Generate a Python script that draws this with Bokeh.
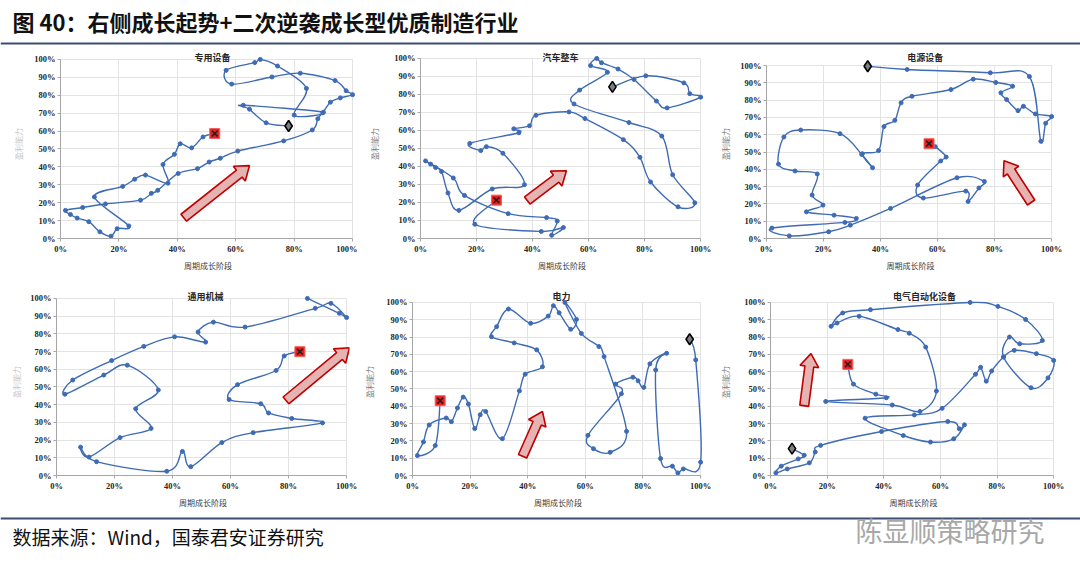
import numpy as np
from bokeh.plotting import figure
from bokeh.models import Range1d, Label, Span, FixedTicker, PrintfTickFormatter, ColumnDataSource
from bokeh.layouts import column, row
from bokeh.embed import file_html
from bokeh.resources import INLINE

TITLE = "图 40：右侧成长起势+二次逆袭成长型优质制造行业"
SOURCE = "数据来源：Wind，国泰君安证券研究"
WATERMARK = "陈显顺策略研究"
X_LABEL = "周期成长阶段"
Y_LABEL = "盈利能力"
X_TICKS = [0, 20, 40, 60, 80, 100]
Y_TICKS = [0, 10, 20, 30, 40, 50, 60, 70, 80, 90, 100]

# ---------------- data (percent) ----------------
names = ["专用设备", "汽车整车", "电源设备", "通用机械", "电力", "电气自动化设备"]

s1_x = [78.1, 70.4, 64.7, 62.6, 90.0, 80.0, 84.2, 74.3, 68.4, 66.5, 56.7, 58.6, 72.4, 82.1, 94.0, 97.8, 100.0,
        95.8, 92.4, 89.8, 88.1, 86.2, 76.4, 60.7, 54.7, 50.9, 46.9, 40.3, 33.3, 31.1, 27.4, 15.4, 7.6, 1.7,
        3.4, 5.7, 9.7, 13.5, 17.3, 19.4, 23.4, 11.6, 21.3, 25.4, 29.1, 36.8, 35.1, 39.0, 41.0, 44.9, 48.8, 52.8]
s1_y = [62.8, 64.6, 72.2, 74.4, 70.5, 68.9, 83.8, 96.3, 100.0, 98.2, 93.9, 86.2, 90.2, 92.3, 88.2, 82.5, 80.3,
        78.5, 76.1, 70.2, 66.9, 60.6, 54.5, 48.8, 44.8, 42.7, 39.0, 36.3, 26.9, 25.2, 21.4, 19.3, 17.3, 15.7,
        13.4, 11.4, 9.4, 3.7, 1.3, 5.5, 7.0, 23.2, 29.1, 33.1, 35.4, 30.9, 41.3, 47.0, 52.9, 50.6, 56.7, 58.6]

s2_x = [68.5, 80.4, 94.0, 96.1, 100.0, 88.0, 84.2, 76.2, 70.5, 64.6, 62.9, 60.7, 66.7, 56.8, 54.8, 74.4, 86.1,
        90.0, 97.9, 91.9, 82.1, 78.3, 72.4, 58.7, 53.0, 41.2, 38.9, 33.3, 35.1, 17.6, 21.5, 23.5, 29.4, 37.1,
        25.6, 13.7, 9.8, 7.5, 5.4, 3.6, 1.8, 11.7, 15.7, 31.3, 45.0, 48.8, 46.8, 51.0, 43.1, 19.4, 27.1]
s2_y = [84.2, 90.3, 86.4, 80.4, 78.5, 72.5, 76.3, 88.3, 94.1, 97.6, 100.0, 96.0, 92.3, 82.4, 74.7, 64.4, 56.9,
        35.4, 19.8, 17.6, 31.4, 45.1, 54.9, 66.6, 70.3, 68.4, 62.6, 60.9, 58.7, 52.8, 48.8, 51.0, 47.3, 29.9,
        27.5, 15.6, 25.3, 37.2, 39.4, 41.3, 43.1, 33.6, 23.9, 13.8, 11.6, 9.7, 1.8, 6.1, 3.9, 7.9, 21.3]

s3_x = [35.5, 49.3, 78.5, 92.2, 96.2, 97.9, 100.0, 94.3, 90.1, 88.2, 84.2, 82.2, 86.3, 80.4, 72.5, 64.7, 51.0,
        47.2, 45.0, 41.2, 39.3, 33.6, 37.2, 33.4, 25.8, 12.0, 6.1, 4.2, 10.0, 17.8, 16.0, 19.8, 14.0, 23.7,
        31.5, 27.5, 1.9, 8.0, 21.8, 29.4, 43.5, 66.8, 76.4, 74.5, 70.7, 69.9, 55.0, 53.0, 61.1, 63.0, 59.2, 57.0]
s3_y = [99.6, 97.7, 95.8, 93.6, 56.2, 66.6, 70.5, 72.0, 76.4, 73.9, 80.3, 84.2, 88.0, 90.2, 92.1, 86.1, 82.2,
        78.4, 68.3, 64.7, 50.8, 49.0, 40.9, 48.6, 60.6, 62.7, 58.7, 43.0, 39.0, 37.3, 25.1, 19.3, 15.4, 13.5,
        11.6, 9.3, 6.0, 1.5, 3.9, 7.7, 17.4, 35.1, 33.0, 29.2, 21.4, 27.4, 23.4, 30.9, 44.8, 47.1, 53.1, 54.8]

s4_x = [86.5, 97.5, 100.0, 94.6, 89.2, 65.0, 54.1, 48.8, 51.4, 40.7, 30.1, 19.0, 5.6, 2.9, 16.3, 24.4, 35.1,
        27.3, 32.6, 21.9, 11.2, 8.3, 13.8, 38.0, 43.4, 46.3, 57.0, 67.8, 91.7, 81.1, 73.1, 70.4, 59.5, 62.4,
        75.7, 78.5, 83.9]
s4_y = [100.0, 91.6, 89.2, 97.2, 94.4, 83.8, 86.6, 81.0, 75.3, 78.3, 72.9, 64.9, 53.9, 45.9, 56.7, 62.3, 48.3,
        37.7, 26.6, 21.4, 10.4, 16.0, 7.8, 2.4, 13.6, 5.0, 18.6, 24.2, 29.7, 32.2, 35.3, 40.5, 42.9, 51.3,
        59.3, 67.5, 69.9]

s5_x = [96.2, 98.3, 100.0, 94.0, 92.1, 90.2, 86.1, 84.4, 88.2, 82.4, 80.3, 78.3, 76.5, 70.5, 72.5, 60.9, 62.8,
        68.6, 74.3, 66.5, 64.7, 58.6, 52.9, 56.9, 54.9, 50.9, 48.9, 47.1, 41.0, 33.3, 29.2, 27.4, 35.3, 43.1,
        45.1, 39.1, 37.1, 31.2, 25.4, 23.5, 21.6, 19.4, 17.6, 15.6, 13.5, 11.7, 5.8, 3.8, 1.7, 7.9, 9.6]
s5_y = [78.7, 66.8, 7.7, 3.8, 1.5, 5.4, 9.8, 61.0, 70.6, 64.5, 50.9, 54.7, 56.8, 52.8, 47.2, 23.2, 15.5,
        13.4, 25.5, 68.7, 74.5, 82.1, 100.0, 90.2, 84.5, 94.0, 98.1, 92.1, 87.9, 96.2, 86.0, 80.2, 76.6, 72.6,
        62.8, 58.5, 48.9, 21.3, 37.0, 35.1, 27.1, 41.3, 45.3, 39.0, 31.1, 33.2, 29.2, 19.4, 11.5, 17.3, 43.2]

s6_x = [7.6, 11.9, 9.8, 3.8, 1.9, 5.9, 13.7, 15.8, 17.7, 39.2, 62.6, 66.7, 68.5, 64.7, 56.5, 46.9, 33.4, 50.8,
        60.6, 72.4, 74.2, 76.2, 78.1, 82.3, 86.1, 93.9, 100.0, 98.0, 92.0, 82.3, 84.4, 88.0, 96.0, 90.1, 80.3,
        70.5, 35.3, 25.5, 21.4, 23.5, 31.3, 45.0, 49.0, 54.8, 58.6, 52.8, 43.0, 19.5, 40.9, 37.2, 29.3, 27.3]
s6_y = [15.5, 11.7, 9.6, 5.4, 1.5, 3.8, 7.3, 13.6, 17.4, 25.4, 31.2, 27.0, 29.3, 21.2, 19.3, 23.1, 33.1, 35.0,
        38.8, 58.5, 62.5, 54.5, 60.4, 68.5, 72.3, 70.4, 66.5, 56.4, 50.7, 68.5, 80.0, 76.1, 78.0, 90.1, 97.7,
        100.0, 95.8, 93.9, 86.2, 88.1, 92.0, 84.3, 82.2, 74.2, 48.8, 37.0, 40.7, 42.8, 44.9, 47.0, 52.8, 64.2]

series_x = [s1_x, s2_x, s3_x, s4_x, s5_x, s6_x]
series_y = [s1_y, s2_y, s3_y, s4_y, s5_y, s6_y]
has_start_marker = [True, True, True, False, True, True]

# trend arrows: tail -> head (percent units)
arrow_tail_x = [42.2, 38.1, 92.8, 79.1, 38.2, 11.9]
arrow_tail_y = [11.6, 21.1, 20.8, 42.4, 11.1, 40.3]
arrow_head_x = [64.7, 52.1, 83.3, 101.0, 45.1, 14.3]
arrow_head_y = [40.7, 37.6, 45.0, 72.1, 37.0, 70.4]

# ---------------- layout geometry ----------------
# (cell width, cell height, left border, right border, y of 100% in cell, y of 0% in cell,
#  y-label standoff, title x, title offset above 100%, y-label colour)
geom = [
    (357, 240, 60, 2, 12, 193, 7, 52.0, 2, "#c8c8c8"),
    (360, 240, 63, 14, 11, 193, 11, 50.0, 1, "#7f7f7f"),
    (363, 240, 43, 26, 20, 193, 6, 55.7, 8, "#7f7f7f"),
    (357, 225, 56, 8, 12, 191, 5, 51.4, 2, "#c8c8c8"),
    (360, 225, 55, 14, 17, 191, 8, 51.7, 6, "#7f7f7f"),
    (363, 225, 49, 24, 17, 191, 10, 54.4, 6, "#7f7f7f"),
]

XMAX = 101.0
LINE_COLOR = "#3E6BB4"
CJK = "Noto Sans CJK SC"
SERIF = "Liberation Serif"


def smooth_segments(xs, ys, sx, sy):
    P = np.column_stack([np.asarray(xs, float) * sx, np.asarray(ys, float) * sy])
    n = len(P)
    Pm = np.vstack([P[0], P, P[-1]])
    a = P[:-1]
    b = P[1:]
    prev = Pm[0:n - 1]
    nxt = Pm[3:n + 2]
    c0 = a + (b - prev) / 6.0
    c1 = b - (nxt - a) / 6.0
    return dict(x0=a[:, 0] / sx, y0=a[:, 1] / sy, x1=b[:, 0] / sx, y1=b[:, 1] / sy,
                cx0=c0[:, 0] / sx, cy0=c0[:, 1] / sy, cx1=c1[:, 0] / sx, cy1=c1[:, 1] / sy)


def arrow_polygon(tx, ty, hx, hy, sx, sy, w=4.5, hw=9.5, hl=13.0):
    T = np.array([tx * sx, ty * sy])
    H = np.array([hx * sx, hy * sy])
    u = (H - T) / np.linalg.norm(H - T)
    v = np.array([-u[1], u[0]])
    B = H - u * hl
    pts = [T + v * w, B + v * w, B + v * hw, H, B - v * hw, B - v * w, T - v * w]
    return [p[0] / sx for p in pts], [p[1] / sy for p in pts]


figs = []
for i in range(6):
    W, Hh, L, R, y100, y0, ystand, tx, toff, ycol = geom[i]
    T = max(y100 - toff - 8, 0)
    Bm = Hh - y0
    fw = W - L - R
    fh = y0 - T
    sx = fw / XMAX
    sy = (y0 - y100) / 100.0
    ytop = fh / sy
    p = figure(width=W, height=Hh, x_range=Range1d(0, XMAX), y_range=Range1d(0, ytop),
               output_backend="svg", toolbar_location=None,
               min_border_left=L, min_border_right=R, min_border_top=T, min_border_bottom=Bm)
    p.outline_line_color = None
    p.background_fill_color = "white"
    p.border_fill_color = "white"

    for ax in (p.xaxis[0], p.yaxis[0]):
        ax.axis_line_color = "#a6a6a6"
        ax.major_tick_line_color = "#a6a6a6"
        ax.major_tick_out = 3
        ax.major_tick_in = 0
        ax.minor_tick_line_color = None
        ax.major_label_text_font = SERIF
        ax.major_label_text_font_style = "bold"
        ax.major_label_text_font_size = "8.5px"
        ax.major_label_text_color = "#262626"
        ax.major_label_standoff = 2
        ax.axis_label_text_font = CJK
        ax.axis_label_text_font_size = "8px"
        ax.axis_label_text_font_style = "normal"
        ax.bounds = (0, 100)
    p.xaxis.ticker = FixedTicker(ticks=X_TICKS)
    p.yaxis.ticker = FixedTicker(ticks=Y_TICKS)
    p.xaxis.formatter = PrintfTickFormatter(format="%d%%")
    p.yaxis.formatter = PrintfTickFormatter(format="%d%%")
    p.xaxis.axis_label = X_LABEL
    p.xaxis.axis_label_standoff = 3
    p.xaxis.axis_label_text_color = "#404040"
    p.yaxis.axis_label = Y_LABEL
    p.yaxis.axis_label_standoff = ystand
    p.yaxis.axis_label_text_color = ycol

    p.xgrid.ticker = FixedTicker(ticks=X_TICKS)
    p.ygrid.ticker = FixedTicker(ticks=Y_TICKS)
    p.xgrid.grid_line_color = "#e3e3e3"
    p.ygrid.grid_line_color = "#e3e3e3"
    try:
        p.xgrid.cross_bounds = (0, 100)
        p.ygrid.cross_bounds = (0, 100)
    except Exception:
        pass

    # trend arrow
    ax_, ay_ = arrow_polygon(arrow_tail_x[i], arrow_tail_y[i], arrow_head_x[i], arrow_head_y[i], sx, sy)
    p.patch(ax_, ay_, fill_color="#e6b3b3", line_color="#c00000", line_width=1.6)

    # smoothed trajectory
    seg = ColumnDataSource(smooth_segments(series_x[i], series_y[i], sx, sy))
    p.bezier(x0="x0", y0="y0", x1="x1", y1="y1", cx0="cx0", cy0="cy0", cx1="cx1", cy1="cy1",
             source=seg, line_color=LINE_COLOR, line_width=1.4)
    p.scatter(series_x[i], series_y[i], size=4, marker="circle", fill_color=LINE_COLOR, line_color=LINE_COLOR)

    if has_start_marker[i]:
        p.scatter([series_x[i][0]], [series_y[i][0]], marker="diamond", size=11,
                  fill_color="#7f7f7f", line_color="#000000", line_width=1.6)
    p.scatter([series_x[i][-1]], [series_y[i][-1]], marker="square", size=10,
              fill_color="#f01c1c", line_color="#f06060", line_width=1)
    p.scatter([series_x[i][-1]], [series_y[i][-1]], marker="x", size=8,
              line_color="#202020", line_width=1.6)

    p.add_layout(Label(x=tx, y=100, y_offset=toff, text=names[i], text_align="center",
                       text_baseline="middle", text_font=CJK, text_font_size="9px",
                       text_color="#262626", text_font_style="bold"))
    figs.append(p)

# ---------------- header & footer ----------------
header = figure(width=1080, height=45, x_range=Range1d(0, 1080), y_range=Range1d(0, 45),
                output_backend="svg", toolbar_location=None, min_border=0)
footer = figure(width=1080, height=66, x_range=Range1d(0, 1080), y_range=Range1d(0, 66),
                output_backend="svg", toolbar_location=None, min_border=0)
for f in (header, footer):
    f.axis.visible = False
    f.grid.visible = False
    f.outline_line_color = None
    f.background_fill_color = "white"
    f.border_fill_color = "white"

header.add_layout(Label(x=12, y=25, text=TITLE, text_font=CJK, text_font_size="22px",
                        text_font_style="bold", text_baseline="middle", text_color="#111111"))
header.add_layout(Span(location=2, dimension="width", line_color="#3b4e6e", line_width=2))

footer.add_layout(Span(location=58, dimension="width", line_color="#3b4e6e", line_width=2))
footer.add_layout(Label(x=12, y=40, text=SOURCE, text_font=CJK, text_font_size="19px",
                        text_baseline="middle", text_color="#111111"))
footer.add_layout(Label(x=855, y=46, text=WATERMARK, text_font=CJK, text_font_size="27px",
                        text_baseline="middle", text_color="#a8a8a8"))

layout = column(header, row(figs[0], figs[1], figs[2]), row(figs[3], figs[4], figs[5]), footer)

with open("out.html", "w") as fh_:
    fh_.write(file_html(layout, INLINE))
